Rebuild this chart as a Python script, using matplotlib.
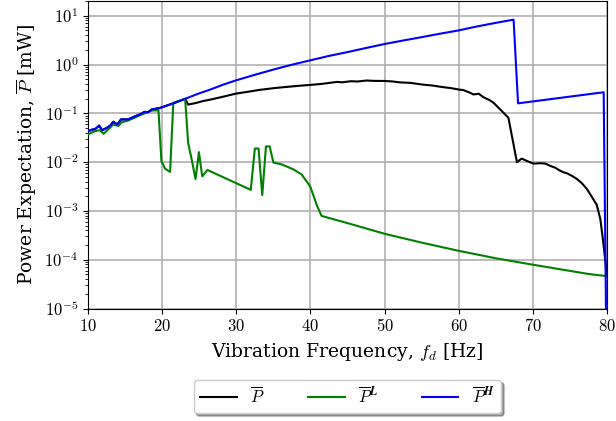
import numpy as np
import matplotlib
matplotlib.use("Agg")
import matplotlib.pyplot as plt
from matplotlib.ticker import FuncFormatter, LogLocator, FixedLocator

# frequency [Hz] and power expectation [mW]
freq_high = [10.0, 10.5, 11.0, 11.5, 11.9, 12.5, 13.0, 13.4, 13.95, 14.45, 15.4, 16.3, 17.2, 17.6, 18.1,
             18.6, 19.7, 21.5, 23.1, 24.8, 26.5, 28.2, 30.0, 32.5, 35.0, 37.5, 40.0, 42.5, 45.1, 47.5,
             50.0, 52.5, 55.1, 57.5, 60.0, 62.3, 64.7, 67.4,
             68.0, 79.55, 80.0]
p_high = [0.043, 0.046, 0.048, 0.056, 0.045, 0.050, 0.056, 0.067, 0.059, 0.075, 0.075, 0.086, 0.098, 0.107, 0.105,
          0.120, 0.129, 0.160, 0.198, 0.250, 0.307, 0.385, 0.475, 0.615, 0.787, 0.99, 1.22, 1.50, 1.81, 2.18,
          2.63, 3.10, 3.66, 4.28, 5.0, 5.95, 7.0, 8.3,
          0.160, 0.27, 1e-7]

freq_mean = [10.0, 10.5, 11.0, 11.5, 11.9, 12.5, 13.0, 13.4, 13.95, 14.45, 15.4, 16.3, 17.2, 17.6, 18.1,
             18.6, 19.7, 21.5, 23.1, 23.5, 24.5, 25.5, 26.5, 28.0, 30.0, 31.5, 33.0, 35.0, 37.0, 39.0,
             40.0, 41.5, 43.6, 44.3, 45.5, 46.3, 47.6, 48.5, 50.0, 51.0, 52.1, 53.5, 55.1, 56.5, 57.8,
             58.85, 60.0, 60.6, 61.5, 62.0, 62.7, 63.3, 63.8, 64.2, 64.7, 65.6, 66.7, 67.85, 68.5,
             69.3, 70.1, 71.0, 71.7, 72.4, 73.0, 73.5, 74.1, 74.6, 75.3, 75.95, 76.6, 77.3, 77.9, 78.4,
             78.6, 79.1, 79.45, 79.9, 80.0]
p_mean = [0.043, 0.046, 0.048, 0.056, 0.045, 0.050, 0.056, 0.067, 0.059, 0.075, 0.075, 0.086, 0.098, 0.107, 0.105,
          0.120, 0.129, 0.160, 0.198, 0.151, 0.162, 0.178, 0.191, 0.215, 0.254, 0.275, 0.300, 0.327, 0.350, 0.372,
          0.382, 0.400, 0.440, 0.432, 0.455, 0.448, 0.470, 0.462, 0.460, 0.450, 0.430, 0.420, 0.388, 0.370, 0.345,
          0.330, 0.307, 0.300, 0.265, 0.243, 0.252, 0.215, 0.198, 0.185, 0.164, 0.120, 0.081, 0.0100, 0.0118,
          0.0104, 0.0093, 0.0095, 0.0093, 0.0083, 0.0077, 0.0069, 0.0062, 0.0059, 0.0052, 0.0045, 0.0037, 0.0028, 0.0020, 0.0015,
          0.00136, 0.00068, 0.00026, 0.000065, 0.00005]

freq_low = [10.0, 10.9, 11.6, 12.1, 13.4, 14.1, 14.5, 15.4, 17.2, 18.6, 19.3, 19.5, 19.9, 20.4, 21.07,
            21.5, 23.1, 23.5, 24.0, 24.5, 24.96, 25.4, 26.1, 31.95, 32.5, 33.0, 33.5, 34.0, 34.5,
            35.0, 36.1, 37.7, 38.8, 39.96, 40.9, 41.5, 45.4, 50.0, 55.0, 60.0, 65.0, 70.0, 77.5, 80.0]
p_low = [0.037, 0.043, 0.045, 0.038, 0.059, 0.055, 0.065, 0.071, 0.094, 0.114, 0.115, 0.118, 0.0105, 0.0073, 0.0063,
         0.164, 0.198, 0.025, 0.011, 0.0045, 0.016, 0.0051, 0.0069, 0.0027, 0.019, 0.019, 0.0021, 0.021, 0.021,
         0.0098, 0.009, 0.0071, 0.0056, 0.0032, 0.00126, 0.00079, 0.00054, 0.00034, 0.000224, 0.000152, 0.000107,
         0.000079, 0.000051, 0.000046]

x_ticks = [10, 20, 30, 40, 50, 60, 70, 80]

plt.rcParams['mathtext.fontset'] = 'cm'
plt.rcParams['font.family'] = 'DejaVu Serif'

fig = plt.figure(figsize=(6.16, 4.21), dpi=100)
ax = fig.add_axes([0.1429, 0.2672, 0.8425, 0.7304])

ax.plot(freq_mean, p_mean, color='black', lw=1.5, label=r'$\overline{P}$', zorder=3)
ax.plot(freq_low, p_low, color='green', lw=1.5, label=r'$\overline{P}^{\boldsymbol{L}}$', zorder=4)
ax.plot(freq_high, p_high, color='blue', lw=1.5, label=r'$\overline{P}^{\boldsymbol{H}}$', zorder=5)

ax.set_yscale('log')
ax.set_xlim(10, 80)
ax.set_ylim(1e-5, 20)
ax.xaxis.set_major_locator(FixedLocator(x_ticks))
ax.xaxis.set_major_formatter(FuncFormatter(lambda v, p: r'$%d$' % v))
ax.yaxis.set_major_locator(LogLocator(base=10, numticks=10))
ax.yaxis.set_minor_locator(LogLocator(base=10, subs=np.arange(2, 10), numticks=10))
ax.yaxis.set_major_formatter(FuncFormatter(lambda v, p: r'$10^{%d}$' % round(np.log10(v))))
ax.tick_params(labelsize=12)
ax.grid(True, which='major', color='#b0b0b0', lw=1.2)
ax.set_axisbelow(True)

ax.set_xlabel(r'Vibration Frequency, $f_d$ [Hz]', fontsize=13.5)
ax.set_ylabel(r'Power Expectation, $\overline{P}$ [mW]', fontsize=13.5)

fig.legend(loc='center', bbox_to_anchor=(0.564, 0.058), ncol=3, fontsize=12,
           shadow=True, fancybox=True, framealpha=1, edgecolor='#cccccc',
           handlelength=2.2, columnspacing=2.6)

fig.savefig('out.png', dpi=100)
